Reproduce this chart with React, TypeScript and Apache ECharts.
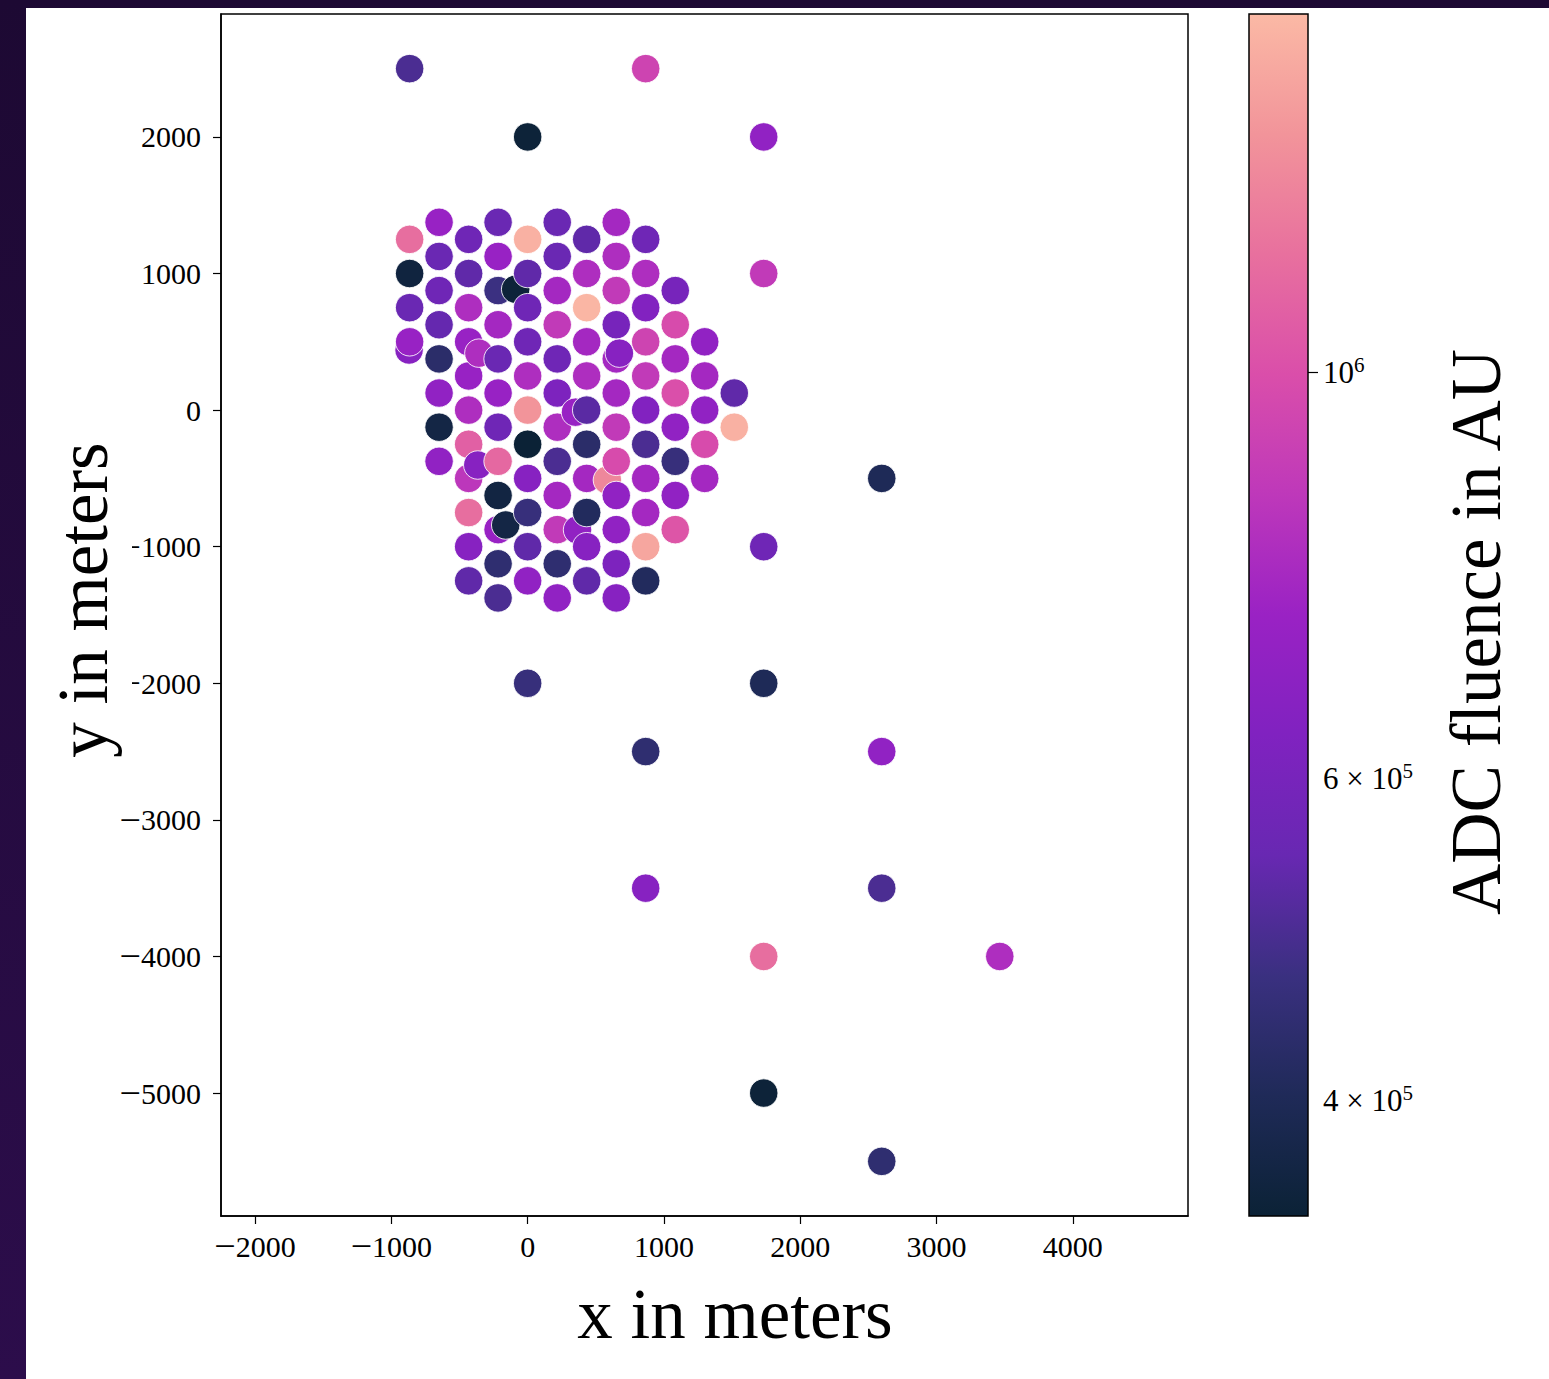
import React, { useEffect, useRef } from "react";
import * as echarts from "echarts";

// ---- station positions (m) and ADC fluence (AU) ----
const stationX = [
  -866, -866, -866, -866, -866, -870,
  -650, -650, -650, -650, -650, -650, -650, -650,
  -433, -433, -433, -433, -433, -433, -433, -433, -433, -433, -433, -366, -358,
  -217, -217, -217, -217, -217, -217, -217, -217, -217, -217, -217, -217, -161, -88,
  0, 0, 0, 0, 0, 0, 0, 0, 0, 0, 0, 0, 0,
  217, 217, 217, 217, 217, 217, 217, 217, 217, 217, 217, 217, 351, 366,
  433, 433, 433, 433, 433, 433, 433, 433, 433, 433, 433, 585,
  650, 650, 650, 650, 650, 650, 650, 650, 650, 650, 650, 650, 673,
  866, 866, 866, 866, 866, 866, 866, 866, 866, 866, 866, 866, 866, 866,
  1083, 1083, 1083, 1083, 1083, 1083, 1083, 1083,
  1299, 1299, 1299, 1299, 1299,
  1516, 1516,
  1732, 1732, 1732, 1732, 1732, 1732,
  2598, 2598, 2598, 2598,
  3464,
];
const stationY = [
  2500, 1250, 1000, 750, 500, 440,
  1375, 1125, 875, 625, 375, 125, -125, -375,
  1250, 1000, 750, 500, 250, 0, -250, -500, -750, -1000, -1250, -402, 417,
  1375, 1125, 875, 625, 375, 125, -125, -375, -625, -875, -1125, -1375, -841, 885,
  2000, 1250, 1000, 750, 500, 250, 0, -250, -500, -750, -1000, -1250, -2000,
  1375, 1125, 875, 625, 375, 125, -125, -375, -625, -875, -1125, -1375, -15, -877,
  1250, 1000, 750, 500, 250, 0, -250, -500, -750, -1000, -1250, -512,
  1375, 1125, 875, 625, 375, 125, -125, -375, -625, -875, -1125, -1375, 417,
  2500, 1250, 1000, 750, 500, 250, 0, -250, -500, -750, -1000, -1250, -2500, -3500,
  875, 625, 375, 125, -125, -375, -625, -875,
  500, 250, 0, -250, -500,
  125, -125,
  2000, 1000, -1000, -2000, -4000, -5000,
  -500, -2500, -3500, -5500,
  -4000,
];
const fluence = [
  4.95e5, 1.15e6, 3.6e5, 5.5e5, 7.3e5, 6.6e5,
  7.3e5, 5.5e5, 5.7e5, 5.4e5, 4.3e5, 7.0e5, 3.7e5, 7.0e5,
  5.7e5, 5.3e5, 8.0e5, 7.3e5, 7.3e5, 8.0e5, 1.08e6, 8.5e5, 1.15e6, 6.6e5, 5.3e5, 6.6e5, 8.0e5,
  5.5e5, 7.3e5, 4.7e5, 7.7e5, 5.5e5, 7.3e5, 5.7e5, 1.12e6, 3.65e5, 7.3e5, 4.4e5, 4.95e5, 3.7e5, 3.5e5,
  3.5e5, 1.52e6, 5.3e5, 5.7e5, 5.7e5, 8.0e5, 1.35e6, 3.45e5, 6.6e5, 4.6e5, 5.3e5, 7.0e5, 4.6e5,
  5.5e5, 5.5e5, 7.7e5, 8.7e5, 5.7e5, 6.2e5, 8.0e5, 4.95e5, 7.7e5, 8.7e5, 4.4e5, 7.0e5, 7.3e5, 7.0e5,
  5.3e5, 8.0e5, 1.55e6, 7.7e5, 8.0e5, 5.2e5, 4.3e5, 7.7e5, 4.1e5, 6.6e5, 5.3e5, 1.28e6,
  7.7e5, 8.0e5, 8.7e5, 6.0e5, 7.7e5, 7.7e5, 8.7e5, 9.8e5, 7.0e5, 7.0e5, 6.2e5, 6.6e5, 6.6e5,
  9.3e5, 5.7e5, 8.0e5, 6.4e5, 9.3e5, 8.7e5, 6.4e5, 4.95e5, 7.7e5, 7.7e5, 1.45e6, 4.1e5, 4.4e5, 6.6e5,
  6.0e5, 9.8e5, 7.7e5, 1.0e6, 7.0e5, 4.6e5, 7.0e5, 1.03e6,
  7.0e5, 7.7e5, 7.0e5, 9.8e5, 7.7e5,
  5.3e5, 1.52e6,
  7.0e5, 8.7e5, 5.7e5, 4.0e5, 1.15e6, 3.5e5,
  4.0e5, 7.0e5, 4.95e5, 4.4e5,
  8.0e5,
];

const xTicks = [-2000, -1000, 0, 1000, 2000, 3000, 4000];
const yTicks = [2000, 1000, 0, -1000, -2000, -3000, -4000, -5000];
const cbarMajorTicks = [1e6];
const cbarMinorTicks = [4e5, 5e5, 6e5, 7e5, 8e5, 9e5];
const cbarLabelTicks = [4e5, 6e5, 1e6];
const CBAR_MIN = 3.46e5;
const CBAR_MAX = 1.57e6;
const cmapColors = [
  "#0b2236", "#1f2a58", "#3a3080", "#6828b2", "#8022c0", "#9a22c4",
  "#be38ba", "#da4eaa", "#e8709e", "#f2949a", "#fbb9a5",
];

const FONT = "'Liberation Serif', 'DejaVu Serif', serif";

export default function App() {
  const ref = useRef<HTMLDivElement>(null);

  useEffect(() => {
    if (!ref.current) return;
    const chart = echarts.init(ref.current, null, { renderer: "svg" });
    const lmin = Math.log10(CBAR_MIN);
    const lmax = Math.log10(CBAR_MAX);
    const points = stationX
      .map((x, i) => [x, stationY[i], Math.log10(fluence[i])])
      .sort((a, b) => a[0] - b[0]);
    const tickText = (v: number) => (v < 0 ? "{m|\u2212}{d|" + Math.abs(v) + "}" : "{d|" + v + "}");
    const tickRich = {
      m: { fontFamily: FONT, fontSize: 38, color: "#000", lineHeight: 40 },
      d: { fontFamily: FONT, fontSize: 30, color: "#000", lineHeight: 40 },
    };
    const stops = cmapColors.map((c, i) => ({ offset: i / (cmapColors.length - 1), color: c }));

    const option: any = {
      animation: false,
      backgroundColor: "#ffffff",
      grid: [
        { left: 195, top: 6, width: 967, height: 1202, show: true, borderColor: "#000", borderWidth: 1.5, backgroundColor: "transparent" },
        { left: 1223, top: 6, width: 59, height: 1202, show: false },
      ],
      xAxis: [
        {
          type: "value", gridIndex: 0, min: -2250, max: 4845,
          axisLine: { show: true, onZero: false, lineStyle: { color: "#000", width: 1.5 } },
          axisTick: { show: true, length: 8, customValues: xTicks, lineStyle: { color: "#000", width: 1.2 } },
          axisLabel: { customValues: xTicks, formatter: tickText, rich: tickRich, margin: 10 },
          splitLine: { show: false },
        },
        { type: "value", gridIndex: 1, min: 0, max: 1, show: false },
      ],
      yAxis: [
        {
          type: "value", gridIndex: 0, min: -5900, max: 2900,
          axisLine: { show: true, onZero: false, lineStyle: { color: "#000", width: 1.5 } },
          axisTick: { show: true, length: 8, customValues: yTicks, lineStyle: { color: "#000", width: 1.2 } },
          axisLabel: { customValues: yTicks, formatter: tickText, rich: tickRich, margin: 20 },
          splitLine: { show: false },
        },
        {
          type: "value", gridIndex: 1, min: lmin, max: lmax, position: "right",
          axisLine: { show: false },
          axisTick: { show: true, length: 5, customValues: cbarMinorTicks.map((v) => Math.log10(v)), lineStyle: { color: "#000", width: 1.2 } },
          axisLabel: {
            customValues: cbarLabelTicks.map((v) => Math.log10(v)),
            margin: 15,
            formatter: (lv: number) => {
              const v = Math.pow(10, lv);
              if (Math.abs(v - 1e6) < 1e3) return "{b|10}{s|6}";
              const m = Math.round(v / 1e5);
              return "{b|" + m + " \u00d7 10}{s|5}";
            },
            rich: {
              b: { fontFamily: FONT, fontSize: 31, color: "#000", lineHeight: 36 },
              s: { fontFamily: FONT, fontSize: 21, color: "#000", verticalAlign: "top", lineHeight: 36 },
            },
          },
          splitLine: { show: false },
        },
        {
          type: "value", gridIndex: 1, min: lmin, max: lmax, position: "right",
          axisLine: { show: false },
          axisTick: { show: true, length: 10, customValues: cbarMajorTicks.map((v) => Math.log10(v)), lineStyle: { color: "#000", width: 1.2 } },
          axisLabel: { show: false },
          splitLine: { show: false },
        },
      ],
      visualMap: {
        show: false, type: "continuous", seriesIndex: 0, dimension: 2,
        min: lmin, max: lmax, inRange: { color: cmapColors },
      },
      series: [
        {
          type: "scatter", xAxisIndex: 0, yAxisIndex: 0, data: points, symbolSize: 28.5,
          itemStyle: { borderColor: "rgba(255,255,255,0.85)", borderWidth: 1, opacity: 1 },
        },
        {
          type: "custom", xAxisIndex: 1, yAxisIndex: 1, data: [[0, lmin, 1, lmax]],
          renderItem: (params: any, api: any) => {
            const p0 = api.coord([0, lmin]);
            const p1 = api.coord([1, lmax]);
            return {
              type: "rect",
              shape: { x: p0[0], y: p1[1], width: p1[0] - p0[0], height: p0[1] - p1[1] },
              style: { fill: new echarts.graphic.LinearGradient(0, 1, 0, 0, stops), stroke: "#000", lineWidth: 1.5 },
            };
          },
        },
      ],
      graphic: [
        { type: "rect", z: 100, shape: { x: 14, y: 492, width: 92, height: 220 }, style: { fill: "#ffffff" } },
        { type: "text", z: 101, x: 709, y: 1306, style: { text: "x in meters", fontFamily: FONT, fontSize: 71, fill: "#000", align: "center", verticalAlign: "middle" } },
        { type: "text", z: 101, x: 57, y: 592, rotation: Math.PI / 2, style: { text: "y in meters", fontFamily: FONT, fontSize: 71, fill: "#000", align: "center", verticalAlign: "middle" } },
        { type: "text", z: 101, x: 1450, y: 624, rotation: Math.PI / 2, style: { text: "ADC fluence in AU", fontFamily: FONT, fontSize: 71, fill: "#000", align: "center", verticalAlign: "middle" } },
      ],
    };
    chart.setOption(option);
    return () => chart.dispose();
  }, []);

  return (
    <div style={{ position: "absolute", left: 0, top: 0, width: 1549, height: 1379, overflow: "hidden", background: "linear-gradient(to bottom, #1d0933, #2c0d4b)" }}>
      <div ref={ref} style={{ position: "absolute", left: 26, top: 8, width: 1523, height: 1371, background: "#ffffff" }} />
    </div>
  );
}
